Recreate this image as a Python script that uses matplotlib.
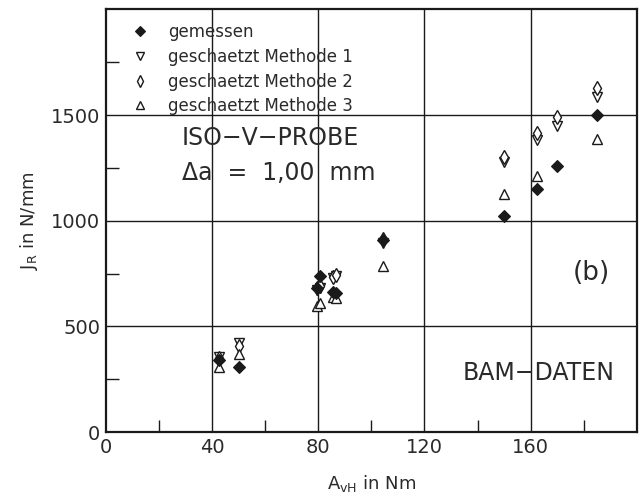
import numpy as np
import matplotlib
matplotlib.use("Agg")
import matplotlib.pyplot as plt
from matplotlib.ticker import FixedLocator

# --- data ---
a_vh = [42.5, 50.0, 79.5, 80.5, 85.5, 86.5, 104.5, 150.0, 162.5, 170.0, 185.0]
j_gemessen = [343, 308, 680, 740, 662, 660, 910, 1025, 1150, 1260, 1502]
j_methode1 = [357, 421, 672, 684, 730, 738, 893, 1278, 1383, 1450, 1585]
j_methode2 = [350, 408, 682, 692, 736, 745, 915, 1302, 1415, 1490, 1630]
j_methode3 = [310, 372, 598, 612, 640, 636, 787, 1126, 1214, np.nan, 1386]

series_labels = ["gemessen", "geschaetzt Methode 1",
                 "geschaetzt Methode 2", "geschaetzt Methode 3"]
x_ticks = [0, 40, 80, 120, 160]
y_ticks = [0, 500, 1000, 1500]

ink = "#1a1a1a"
txt = "#2a2a2a"
plt.rcParams["font.family"] = ["DejaVu Sans"]

fig = plt.figure(figsize=(6.42, 4.99), dpi=100)
ax = fig.add_axes([0.165, 0.134, 0.827, 0.847])

ax.set_xlim(0, 200)
ax.set_ylim(0, 2000)

# grid
for gx in x_ticks[1:]:
    ax.axvline(gx, color=ink, lw=1.0, zorder=1)
for gy in y_ticks[1:]:
    ax.axhline(gy, color=ink, lw=1.0, zorder=1)

ms = 7
ax.plot(a_vh, j_methode1, ls="none", marker="v", ms=ms, mfc="white", mec=ink,
        mew=1.0, label=series_labels[1], zorder=3)
ax.plot(a_vh, j_methode2, ls="none", marker="d", ms=ms + 0.5, mfc="white", mec=ink,
        mew=1.0, label=series_labels[2], zorder=3)
ax.plot(a_vh, j_methode3, ls="none", marker="^", ms=ms, mfc="white", mec=ink,
        mew=1.0, label=series_labels[3], zorder=3)
ax.plot(a_vh, j_gemessen, ls="none", marker="D", ms=ms - 0.5, mfc=ink, mec=ink,
        mew=0.8, label=series_labels[0], zorder=4)

handles, labels = ax.get_legend_handles_labels()
order = [3, 0, 1, 2]
leg = ax.legend([handles[i] for i in order], [labels[i] for i in order],
                loc="upper left", bbox_to_anchor=(0.02, 1.003), frameon=False,
                fontsize=12, handlelength=1.0, handletextpad=1.2,
                labelspacing=0.4, markerscale=0.75, labelcolor=txt)

# ticks
ax.xaxis.set_major_locator(FixedLocator(x_ticks))
ax.yaxis.set_major_locator(FixedLocator(y_ticks))
ax.xaxis.set_minor_locator(FixedLocator([20, 60, 100, 140, 180]))
ax.yaxis.set_minor_locator(FixedLocator([250, 750, 1250, 1750]))
ax.tick_params(which="major", length=0, pad=4, labelsize=14, labelcolor=txt)
ax.tick_params(which="minor", direction="in", length=9, width=1.0, color=ink)

for sp in ax.spines.values():
    sp.set_linewidth(1.6)
    sp.set_color(ink)

ax.set_xlabel("A$_{\\mathrm{vH}}$ in Nm", fontsize=13, color=txt, labelpad=12)
ax.set_ylabel("J$_{\\mathrm{R}}$ in N/mm", fontsize=13, color=txt, labelpad=8)

ax.text(28.5, 1390, "ISO\u2212V\u2212PROBE", fontsize=17, color=txt,
        va="center", ha="left", zorder=5)
ax.text(28.5, 1225, "\u0394a  =  1,00  mm", fontsize=17, color=txt,
        va="center", ha="left", zorder=5)
ax.text(183, 752, "(b)", fontsize=19, color=txt, va="center", ha="center", zorder=5)
ax.text(163, 280, "BAM\u2212DATEN", fontsize=17, color=txt,
        va="center", ha="center", zorder=5)

fig.savefig("out.png", dpi=100)
